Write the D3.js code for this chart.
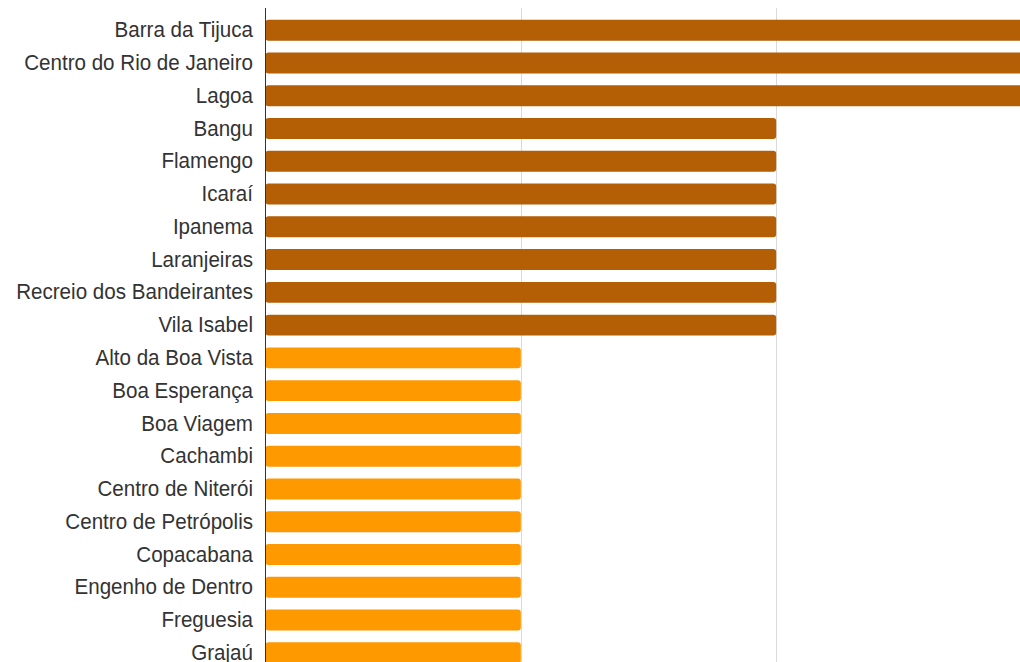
<!DOCTYPE html>
<html>
<head>
<meta charset="utf-8">
<script src="https://cdn.jsdelivr.net/npm/d3@7"></script>
<style>
  html, body { margin: 0; padding: 0; background: #fff; overflow: hidden; }
  svg { display: block; }
</style>
</head>
<body>
<div id="chart"></div>
<script>
const bairros = [
    "Barra da Tijuca", "Centro do Rio de Janeiro", "Lagoa", "Bangu", "Flamengo",
    "Icaraí", "Ipanema", "Laranjeiras", "Recreio dos Bandeirantes", "Vila Isabel",
    "Alto da Boa Vista", "Boa Esperança", "Boa Viagem", "Cachambi", "Centro de Niterói",
    "Centro de Petrópolis", "Copacabana", "Engenho de Dentro", "Freguesia", "Grajaú"
];
const counts = [3, 3, 3, 2, 2, 2, 2, 2, 2, 2, 1, 1, 1, 1, 1, 1, 1, 1, 1, 1];
const gridTicks = [1, 2, 3];

const margin = { top: 8, right: 0, bottom: 0, left: 265 };
const width = 1032;
const height = 675;

const data = bairros.map((name, i) => ({ name, value: counts[i] }));

const svg = d3.select("#chart")
    .append("svg")
    .attr("width", width)
    .attr("height", height);

const x = d3.scaleLinear().domain([0, 3]).range([margin.left + 0.5, width - 0.5]);
const y = d3.scaleBand()
    .domain(bairros)
    .range([margin.top, height - margin.bottom])
    .padding(0.36);

// vertical grid lines
svg.append("g")
    .selectAll("line")
    .data(gridTicks)
    .join("line")
    .attr("x1", d => Math.round(x(d)) + 0.5)
    .attr("x2", d => Math.round(x(d)) + 0.5)
    .attr("y1", margin.top)
    .attr("y2", height)
    .attr("stroke", "#d9d9d9")
    .attr("stroke-width", 1);

svg.append("g")
    .selectAll("rect")
    .data(data)
    .join("rect")
    .attr("x", x(0))
    .attr("y", d => y(d.name))
    .attr("width", d => x(d.value) - x(0))
    .attr("height", y.bandwidth())
    .attr("rx", 3)
    .attr("fill", d => d.value >= 2 ? "#b45f06" : "#ff9900");

const gY = svg.append("g")
    .attr("transform", `translate(${margin.left},0)`)
    .call(d3.axisLeft(y).tickSize(0).tickPadding(12))
    .attr("font-family", "'Liberation Sans', Arial, sans-serif")
    .attr("font-size", 20.6);

gY.select(".domain").attr("stroke", "#333").attr("d", `M0.5,${margin.top}V${height}`);
// labels in the original look slightly stretched vertically
gY.selectAll(".tick").each(function() {
    const t = d3.select(this);
    const ty = +t.attr("transform").match(/,([\d.]+)\)/)[1];
    t.attr("transform", `translate(0,${ty}) scale(1,1.08)`);
});
gY.selectAll(".tick text")
    .attr("fill", "#333")
    .attr("dy", "0.32em");
</script>
</body>
</html>
